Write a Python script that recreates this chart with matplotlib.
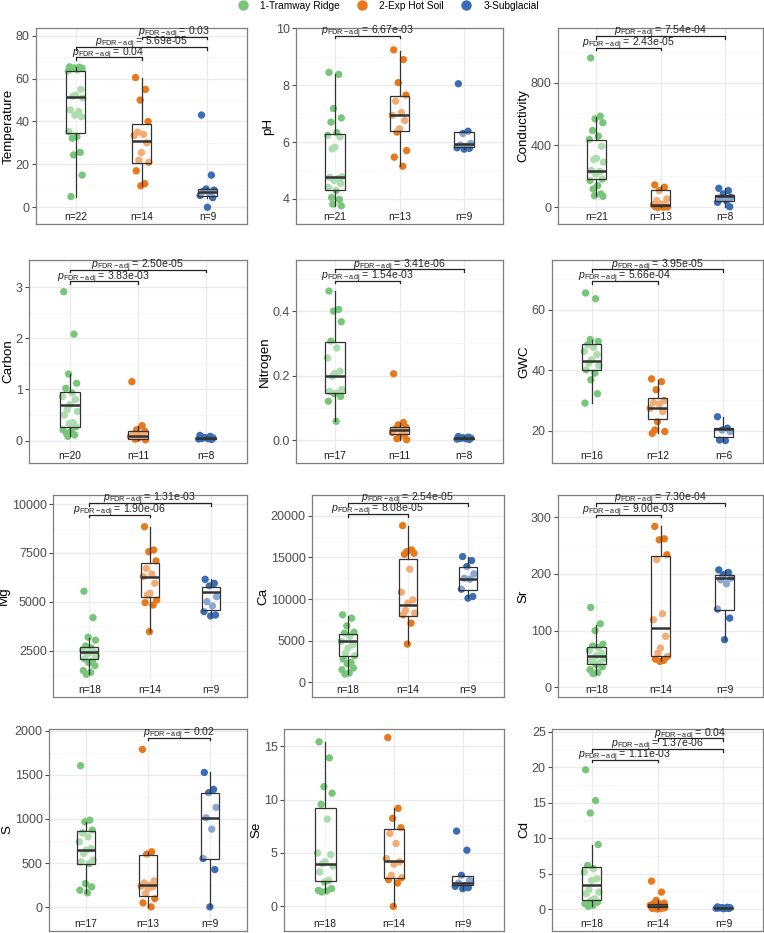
import numpy as np
import matplotlib.pyplot as plt
from matplotlib.lines import Line2D
from matplotlib.ticker import AutoMinorLocator
from matplotlib import transforms

plt.rcParams['font.family'] = ['Liberation Sans', 'DejaVu Sans']
plt.rcParams['mathtext.fontset'] = 'custom'
plt.rcParams['mathtext.rm'] = 'Liberation Sans'
plt.rcParams['mathtext.it'] = 'Liberation Sans:italic'

groups = ['1-Tramway Ridge', '2-Exp Hot Soil', '3-Subglacial']
colors = ['#78C679', '#E8781A', '#3A6DB3']

# ---- data: points per group, box stats (lo, q1, med, q3, hi), p-values ----
temp_vals = [
    [65.5, 65.3, 65, 64.8, 64.5, 64, 63.5, 55, 52.3, 51.8, 51.0, 45.4, 44.6, 43, 42.2, 35.3, 33, 32.2, 25.6, 24.4, 15, 5],
    [60.5, 55, 50, 40, 35, 34, 33.5, 30, 25.5, 22, 21, 17, 11, 10],
    [43, 15, 8.5, 8, 7.5, 6.5, 5.5, 4.5, 0],
]
temp_box = [(5, 34.5, 51.3, 63.7, 65.5), (10, 20.5, 31, 39, 60.5), (4.5, 5.2, 7.2, 8.5, 8.8)]
temp_sig = [((1, 2), '0.04'), ((1, 3), '5.69e-05'), ((2, 3), '0.03')]

ph_vals = [
    [8.45, 8.38, 7.18, 6.85, 6.7, 6.33, 6.24, 6.18, 5.82, 5.76, 4.78, 4.76, 4.72, 4.65, 4.55, 4.4, 4.3, 4.05, 3.98, 3.82, 3.76],
    [9.24, 8.9, 8.09, 7.65, 7.44, 7.04, 6.94, 6.76, 6.47, 6.35, 5.7, 5.47, 5.15],
    [8.05, 6.38, 6.3, 5.95, 5.9, 5.85, 5.8, 5.78, 5.75],
]
ph_box = [(3.76, 4.33, 4.76, 6.29, 8.41), (5.15, 6.39, 6.95, 7.62, 9.2), (5.75, 5.82, 5.94, 6.35, 6.4)]
ph_sig = [((1, 2), '6.67e-03')]

cond_vals = [
    [959, 585, 568, 543, 493, 457, 435, 392, 315, 307, 290, 236, 230, 214, 182, 172, 139, 118, 86, 75, 71],
    [144, 129, 107, 54, 43, 21, 15, 11, 6, 0, 2, 4, 1],
    [122, 107, 86, 64, 54, 43, 32, 4],
]
cond_box = [(71, 182, 230, 433, 580), (0, 6, 15, 114, 140), (4, 39, 75, 82, 122)]
cond_sig = [((1, 3), '7.54e-04'), ((1, 2), '2.43e-05')]

carbon_vals = [
    [2.91, 2.08, 1.30, 1.12, 1.02, 0.93, 0.86, 0.80, 0.70, 0.60, 0.57, 0.50, 0.35, 0.33, 0.27, 0.21, 0.18, 0.14, 0.11, 0.08],
    [1.15, 0.29, 0.21, 0.18, 0.13, 0.11, 0.08, 0.065, 0.045, 0.026, 0.013],
    [0.10, 0.08, 0.06, 0.05, 0.04, 0.035, 0.03, 0.02],
]
carbon_box = [(0.08, 0.27, 0.685, 0.94, 1.30), (0.01, 0.03, 0.09, 0.18, 0.29), (0.02, 0.03, 0.04, 0.05, 0.08)]
carbon_sig = [((1, 3), '2.50e-05'), ((1, 2), '3.83e-03')]

nitrogen_vals = [
    [0.462, 0.405, 0.40, 0.367, 0.307, 0.286, 0.255, 0.214, 0.207, 0.198, 0.157, 0.152, 0.147, 0.145, 0.136, 0.121, 0.059],
    [0.206, 0.055, 0.048, 0.040, 0.035, 0.030, 0.025, 0.020, 0.012, 0.005, 0.002],
    [0.012, 0.010, 0.008, 0.007, 0.006, 0.005, 0.004, 0.003],
]
nitrogen_box = [(0.059, 0.147, 0.2, 0.305, 0.462), (0.002, 0.02, 0.033, 0.04, 0.055), (0.003, 0.005, 0.0065, 0.008, 0.012)]
nitrogen_sig = [((1, 3), '3.41e-06'), ((1, 2), '1.54e-03')]

gwc_vals = [
    [65.5, 63.6, 50.1, 49.5, 48.4, 47.5, 46.2, 45.1, 43.4, 42.3, 41.4, 40.1, 39.0, 36.8, 32.2, 29.1],
    [37.1, 36.2, 33.5, 29.9, 29.3, 28.8, 27.4, 26.3, 23.0, 20.2, 19.7, 19.1],
    [24.6, 20.8, 20.2, 19.7, 16.9, 16.7],
]
gwc_box = [(29.1, 40.0, 43.1, 48.6, 50.0), (19.1, 23.9, 27.6, 30.9, 36.8), (16.7, 17.8, 20.4, 20.8, 24.6)]
gwc_sig = [((1, 3), '3.95e-05'), ((1, 2), '5.66e-04')]

mg_vals = [
    [5550, 4200, 3200, 3050, 2750, 2650, 2550, 2450, 2400, 2350, 2250, 2100, 2000, 1900, 1750, 1500, 1400, 1300],
    [8843, 7653, 7568, 7092, 6718, 6429, 6293, 5952, 5442, 5357, 5102, 4966, 4847, 3486],
    [6156, 5952, 5816, 5272, 5017, 4796, 4507, 4337, 4286],
]
mg_box = [(1300, 2075, 2466, 2721, 3146), (3486, 5238, 6293, 6973, 8843), (4286, 4592, 5510, 5782, 6156)]
mg_sig = [((1, 3), '1.31e-03'), ((1, 2), '1.90e-06')]

ca_vals = [
    [8096, 7695, 6774, 6012, 5892, 5491, 4890, 4489, 4088, 3487, 3166, 2766, 2365, 2204, 1683, 1483, 1082, 962],
    [18838, 15912, 15700, 15511, 15391, 13587, 10822, 9900, 9500, 8617, 8297, 8096, 7094, 4569],
    [15110, 14629, 13908, 13026, 12505, 12385, 11182, 10301, 10100],
]
ca_box = [(962, 3166, 4890, 5812, 7900), (4569, 7976, 9299, 14830, 18838), (10100, 11102, 12425, 13908, 15110)]
ca_sig = [((1, 3), '2.54e-05'), ((1, 2), '8.08e-05')]

sr_vals = [
    [141, 112, 100, 76, 73, 70, 65, 60, 56, 52, 50, 47, 43, 40, 36, 31, 26, 24],
    [283.6, 261.8, 260, 233.7, 224.9, 129.7, 119.2, 89.8, 69.3, 60.5, 54.6, 49.9, 47.6, 45.8],
    [207, 202.5, 198.4, 192.6, 189.6, 182.6, 138, 122, 84],
]
sr_box = [(24, 41.7, 54.6, 71, 110), (45.8, 54.6, 105, 230.7, 283.6), (84, 136.8, 192.6, 198.4, 207)]
sr_sig = [((1, 3), '7.30e-04'), ((1, 2), '9.00e-03')]

s_vals = [
    [1603, 987, 968, 873, 843, 798, 741, 665, 646, 609, 533, 514, 495, 268, 231, 193, 163],
    [1788, 628, 601, 299, 276, 250, 238, 231, 212, 155, 98, 49, 4],
    [1527, 1335, 1297, 1131, 1013, 885, 552, 427, 4],
]
s_box = [(163, 488, 654, 866, 968), (4, 129, 253, 594, 628), (4, 552, 1013, 1297, 1527)]
s_sig = [((2, 3), '0.02')]

se_vals = [
    [15.4, 13.9, 11.2, 10.6, 9.55, 8.17, 5.0, 4.85, 4.17, 4.0, 3.76, 3.23, 2.44, 2.29, 1.66, 1.5, 1.44, 1.35],
    [15.8, 9.18, 8.24, 7.36, 6.83, 5.89, 4.48, 4.17, 3.95, 2.91, 2.69, 2.51, 2.19, 0.0],
    [7.05, 5.26, 2.91, 2.44, 2.19, 1.97, 1.88, 1.75, 1.66],
]
se_box = [(1.35, 2.38, 4.0, 9.24, 15.4), (0.0, 2.69, 4.23, 7.23, 9.18), (1.66, 1.97, 2.19, 2.82, 2.91)]
se_sig = []

cd_vals = [
    [19.65, 15.3, 13.55, 9.1, 6.14, 5.68, 5.2, 4.27, 4.03, 2.72, 2.39, 2.16, 1.45, 1.22, 0.98, 0.75, 0.52, 0.38],
    [3.94, 2.39, 1.22, 0.84, 0.75, 0.66, 0.52, 0.42, 0.33, 0.28, 0.19, 0.09, 0.05, 0.0],
    [0.3, 0.25, 0.2, 0.18, 0.15, 0.12, 0.1, 0.08, 0.05],
]
cd_box = [(0.38, 1.22, 3.42, 5.91, 9.1), (0.0, 0.28, 0.47, 0.75, 1.22), (0.05, 0.1, 0.15, 0.2, 0.3)]
cd_sig = [((2, 3), '0.04'), ((1, 3), '1.37e-06'), ((1, 2), '1.11e-03')]

# ---- layout (pixel boxes: left, top, right, bottom), axis limits, ticks, bracket heights ----
panels = [
    ('Temperature', temp_vals, temp_box, temp_sig, (36, 28, 247, 224), (-7.8, 83.6), [0, 20, 40, 60, 80], None, [69.9, 74.6, 79.5]),
    ('pH', ph_vals, ph_box, ph_sig, (296, 28, 503, 224), (3.12, 10.01), [4, 6, 8, 10], None, [9.73]),
    ('Conductivity', cond_vals, cond_box, cond_sig, (558, 28, 763, 224), (-107, 1151), [0, 400, 800], None, [1098, 1025]),
    ('Carbon', carbon_vals, carbon_box, carbon_sig, (29, 260, 247, 463), (-0.44, 3.53), [0, 1, 2, 3], None, [3.34, 3.11]),
    ('Nitrogen', nitrogen_vals, nitrogen_box, nitrogen_sig, (296, 260, 503, 463), (-0.07, 0.558), [0, 0.2, 0.4], ['0.0', '0.2', '0.4'], [0.529, 0.493]),
    ('GWC', gwc_vals, gwc_box, gwc_sig, (552, 260, 763, 463), (9.3, 76.4), [20, 40, 60], None, [73.3, 69.4]),
    ('Mg', mg_vals, mg_box, mg_sig, (53, 495, 247, 697), (150, 10460), [2500, 5000, 7500, 10000], None, [10034, 9439]),
    ('Ca', ca_vals, ca_box, ca_sig, (312, 495, 504, 697), (-1800, 22525), [0, 5000, 10000, 15000, 20000], None, [21523, 20200]),
    ('Sr', sr_vals, sr_box, sr_sig, (558, 495, 763, 697), (-17, 339), [0, 100, 200, 300], None, [324.7, 304]),
    ('S', s_vals, s_box, s_sig, (49, 729, 247, 931), (-269, 2019), [0, 500, 1000, 1500, 2000], None, [1921]),
    ('Se', se_vals, se_box, se_sig, (284, 729, 504, 931), (-2.3, 16.6), [0, 5, 10, 15], None, []),
    ('Cd', cd_vals, cd_box, cd_sig, (552, 729, 763, 931), (-3.1, 25.4), [0, 5, 10, 15, 20, 25], None, [24.06, 22.56, 21.06]),
]

JIT = [-0.09, 0.06, -0.02, 0.10, -0.06, 0.03, -0.11, 0.08, 0.00, -0.04, 0.11,
       -0.08, 0.05, -0.01, 0.09, -0.10, 0.02, -0.05, 0.07, -0.03, 0.10, -0.07]

W, H = 764, 933
fig = plt.figure(figsize=(W / 100, H / 100), dpi=100)

for name, vals, box, sigs, (L, T, R, B), ylim, yticks, ylabels, sig_y in panels:
    ax = fig.add_axes([L / W, 1 - B / H, (R - L) / W, (B - T) / H])
    ax.set_xlim(0.4, 3.6)
    ax.set_ylim(*ylim)

    # jittered points
    for i, (v, c) in enumerate(zip(vals, colors)):
        x = i + 1 + np.array(JIT[:len(v)])
        ax.scatter(x, v, s=28, color=c, edgecolors='none', zorder=2)

    # boxes drawn over the points with a see-through white fill
    stats = [dict(whislo=b[0], q1=b[1], med=b[2], q3=b[3], whishi=b[4]) for b in box]
    ax.bxp(stats, positions=[1, 2, 3], widths=0.3, showfliers=False, showcaps=False,
           patch_artist=True, manage_ticks=False, zorder=3,
           boxprops=dict(facecolor=(1, 1, 1, 0.4), edgecolor='#333333', linewidth=0.9),
           medianprops=dict(color='#333333', linewidth=1.8),
           whiskerprops=dict(color='#333333', linewidth=0.9))

    # significance brackets
    span = ylim[1] - ylim[0]
    txt_tr = transforms.offset_copy(ax.transData, fig=fig, y=1.2, units='points')
    for ((a, b), p), yy in zip(sigs, sig_y):
        tk = span * 0.012
        ax.plot([a, a, b, b], [yy - tk, yy, yy, yy - tk], color='#222222', lw=0.9, zorder=4)
        ax.text((a + b) / 2, yy, r'$p_{\mathrm{FDR-adj}}$' + ' = ' + p, transform=txt_tr,
                ha='center', va='baseline', fontsize=7.6, color='#222222', zorder=5)

    # n labels
    nt = transforms.blended_transform_factory(ax.transData, ax.transAxes)
    for i, v in enumerate(vals):
        ax.text(i + 1, 0.035, f'n={len(v)}', transform=nt, ha='center', va='center',
                fontsize=7.3, color='#1A1A1A')

    ax.set_yticks(yticks)
    if ylabels is not None:
        ax.set_yticklabels(ylabels)
    ax.yaxis.set_minor_locator(AutoMinorLocator(2))
    ax.set_xticks([1, 2, 3])
    ax.set_xticklabels([])
    ax.tick_params(axis='x', length=0)
    ax.tick_params(axis='y', which='major', length=3, width=0.8, color='#4D4D4D',
                   labelsize=9, labelcolor='#4D4D4D', pad=1.5)
    ax.tick_params(axis='y', which='minor', length=0)
    ax.set_axisbelow(True)
    ax.grid(which='major', color='#EBEBEB', lw=0.9)
    ax.grid(which='minor', axis='y', color='#F4F4F4', lw=0.5)
    for s in ax.spines.values():
        s.set_color('#7F7F7F')
        s.set_linewidth(0.9)
    ax.set_ylabel(name, fontsize=9.6, labelpad=1)

handles = [Line2D([], [], marker='o', ls='none', color=c, markersize=6.5) for c in colors]
fig.legend(handles, groups, loc='center', bbox_to_anchor=(387 / W, 1 - 6 / H), ncol=3,
           frameon=False, fontsize=7.3, handletextpad=0.9, columnspacing=1.4,
           borderpad=0, handlelength=1.6)

fig.savefig('out.png', dpi=100)
